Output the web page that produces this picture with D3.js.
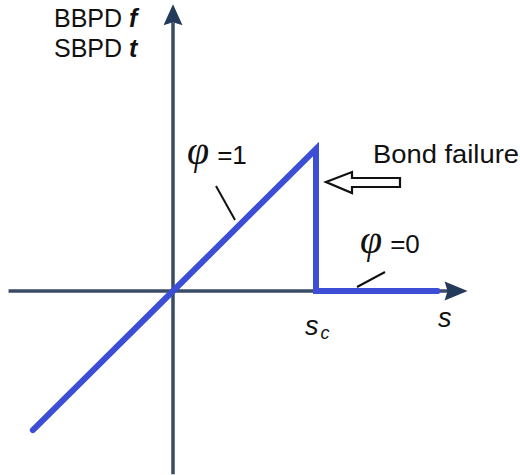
<!DOCTYPE html>
<html>
<head>
<meta charset="utf-8">
<script src="https://cdn.jsdelivr.net/npm/d3@7"></script>
<style>
  html, body { margin: 0; padding: 0; background: #fff; }
  svg { display: block; }
  text { font-family: "Liberation Sans", Arial, sans-serif; fill: #111; }
</style>
</head>
<body>
<svg id="chart" width="520" height="475"></svg>
<script>
// Bond-based / state-based peridynamic force vs stretch, with bond failure at s_c
const stretch = [-0.98, 0, 1, 1, 1.85];
const force   = [-0.98, 0, 1, 0, 0];
const criticalStretch = 1;
const xDomain = [-1.15, 2.06];
const yDomain = [-1.29, 2.02];

const svg = d3.select("#chart");
const x = d3.scaleLinear().domain([0, 1]).range([173, 316]);
const y = d3.scaleLinear().domain([0, 1]).range([291, 149]);

const axisColor = "#3a4b66";
const lineColor = "#3c4dd6";

// axes
svg.append("line")
  .attr("x1", x(xDomain[0])).attr("x2", x(xDomain[1]) - 18)
  .attr("y1", y(0)).attr("y2", y(0))
  .attr("stroke", axisColor).attr("stroke-width", 3.5);
svg.append("line")
  .attr("x1", x(0)).attr("x2", x(0))
  .attr("y1", y(yDomain[0])).attr("y2", y(yDomain[1]) + 18)
  .attr("stroke", axisColor).attr("stroke-width", 3.5);

// arrow heads
const xt = x(xDomain[1]), yt = y(yDomain[1]);
svg.append("path")
  .attr("d", `M${xt},${y(0)} L${xt - 23},${y(0) - 9.5} L${xt - 20},${y(0)} L${xt - 23},${y(0) + 9.5} Z`)
  .attr("fill", "#243a5a");
svg.append("path")
  .attr("d", `M${x(0)},${yt} L${x(0) - 9.5},${yt + 21} L${x(0)},${yt + 18} L${x(0) + 9.5},${yt + 21} Z`)
  .attr("fill", "#243a5a");

// constitutive curve
const line = d3.line().x((d, i) => x(stretch[i])).y((d, i) => y(force[i]));
svg.append("path")
  .datum(stretch)
  .attr("d", line)
  .attr("fill", "none")
  .attr("stroke", lineColor)
  .attr("stroke-width", 6)
  .attr("stroke-linejoin", "miter")
  .attr("stroke-linecap", "round");

// leader lines for phi labels
svg.append("line").attr("x1", 216).attr("y1", 186).attr("x2", 235).attr("y2", 220)
  .attr("stroke", "#111").attr("stroke-width", 2);
svg.append("line").attr("x1", 357).attr("y1", 287).attr("x2", 385).attr("y2", 272)
  .attr("stroke", "#111").attr("stroke-width", 2);

// hollow arrow pointing at failure
svg.append("path")
  .attr("d", "M326,182 L352,172 L352,178 L400,178 L400,187 L352,187 L352,193 Z")
  .attr("fill", "#fff").attr("stroke", "#111").attr("stroke-width", 2.2)
  .attr("stroke-linejoin", "miter");

// labels
const t1 = svg.append("text").attr("x", 54).attr("y", 27).attr("font-size", 25);
t1.append("tspan").text("BBPD ");
t1.append("tspan").attr("font-weight", "bold").attr("font-style", "italic").text("f");
const t2 = svg.append("text").attr("x", 54).attr("y", 57).attr("font-size", 25);
t2.append("tspan").text("SBPD ");
t2.append("tspan").attr("font-weight", "bold").attr("font-style", "italic").text("t");

function phiLabel(px, py, val) {
  const t = svg.append("text").attr("x", px).attr("y", py);
  t.append("tspan").attr("font-size", 40).attr("font-style", "italic")
    .attr("font-family", "'Liberation Serif', serif").text("φ");
  t.append("tspan").attr("font-size", 26).attr("dx", 8).text("=" + val);
}
phiLabel(187, 164, "1");
phiLabel(360, 253, "0");

svg.append("text").attr("x", 373).attr("y", 163).attr("font-size", 25)
  .attr("textLength", 146).attr("lengthAdjust", "spacingAndGlyphs").text("Bond failure");

const sc = svg.append("text").attr("x", x(criticalStretch) - 11).attr("y", 335)
  .attr("font-size", 27).attr("font-style", "italic");
sc.append("tspan").text("s");
sc.append("tspan").attr("font-size", 18).attr("dx", 2).attr("dy", 4).text("c");
svg.append("text").attr("x", 438).attr("y", 327).attr("font-size", 27)
  .attr("font-style", "italic").text("s");
</script>
</body>
</html>
